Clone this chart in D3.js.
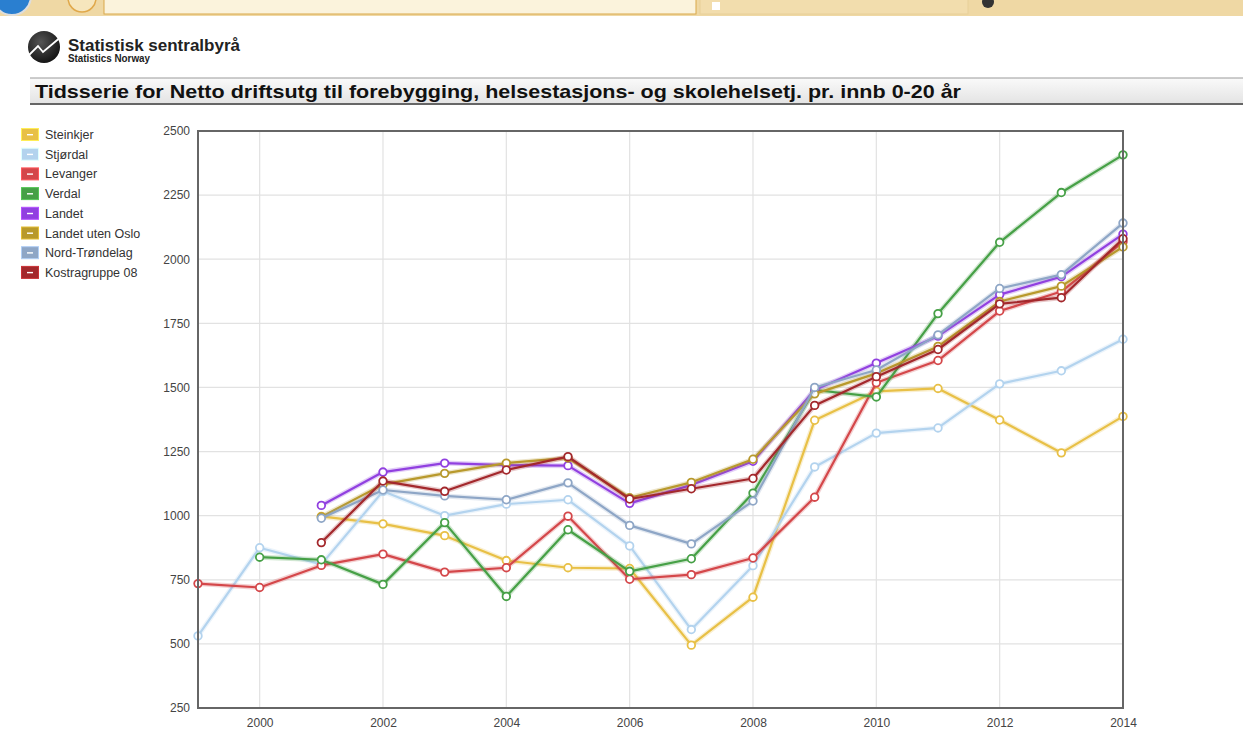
<!DOCTYPE html>
<html lang="no">
<head>
  <meta charset="UTF-8">
  <title>Tidsserie for Netto driftsutg</title>
  <script src="https://d3js.org/d3.v7.min.js"></script>
  <style>
    body {
      margin: 0;
      background: #fff;
      font-family: "Liberation Sans", Arial, sans-serif;
    }
    svg { display: block; }
  </style>
</head>
<body>
  <svg id="chart" width="1243" height="731"></svg>

  <script>
    // years on the x axis
    const years = d3.range(1999, 2015);

    const seriesNames = ["Steinkjer", "Stjørdal", "Levanger", "Verdal", "Landet",
                         "Landet uten Oslo", "Nord-Trøndelag", "Kostragruppe 08"];
    const seriesColors = ["#e8c046", "#b3d3ee", "#d4474a", "#46a046", "#9140e0",
                          "#b8992c", "#8ea6c6", "#a3282c"];

    // values, 1999..2014 (null = no value)
    const steinkjer  = [null, null, 997, 968, 922, 825, 797, 794, 495, 682, 1372, 1485, 1496, 1373, 1245, 1387];
    const stjordal   = [531, 875, 810, 1095, 1000, 1045, 1062, 882, 556, 805, 1190, 1322, 1342, 1514, 1565, 1688];
    const levanger   = [735, 720, 806, 850, 780, 797, 998, 752, 770, 835, 1072, 1518, 1605, 1798, 1874, 2068];
    const verdal     = [null, 838, 828, 732, 973, 685, 945, 783, 832, 1088, 1490, 1463, 1788, 2066, 2260, 2407];
    const landet     = [null, null, 1040, 1170, 1205, 1197, 1195, 1048, 1120, 1212, 1490, 1595, 1700, 1862, 1932, 2098];
    const utenOslo   = [null, null, 995, 1122, 1165, 1205, 1225, 1070, 1130, 1220, 1475, 1555, 1660, 1835, 1895, 2048];
    const nordTrond  = [null, null, 990, 1100, 1077, 1062, 1128, 962, 890, 1057, 1500, 1568, 1705, 1886, 1940, 2141];
    const kostra08   = [null, null, 895, 1135, 1095, 1178, 1230, 1065, 1105, 1145, 1430, 1542, 1648, 1826, 1850, 2080];

    const seriesValues = [steinkjer, stjordal, levanger, verdal, landet, utenOslo, nordTrond, kostra08];

    const yTicks = [250, 500, 750, 1000, 1250, 1500, 1750, 2000, 2250, 2500];
    const xTicks = [2000, 2002, 2004, 2006, 2008, 2010, 2012, 2014];

    const titleText = "Tidsserie for Netto driftsutg til forebygging, helsestasjons- og skolehelsetj. pr. innb 0-20 år";

    const svg = d3.select("#chart");
    const defs = svg.append("defs");

    // --- browser strip at the very top (part of the screenshot) ---
    const chrome = svg.append("g");
    chrome.append("rect").attr("x", 0).attr("y", 0).attr("width", 1243).attr("height", 16).attr("fill", "#efd8a4");
    chrome.append("circle").attr("cx", 12).attr("cy", -4).attr("r", 19).attr("fill", "#2a7fd0").attr("stroke", "#ddd").attr("stroke-width", 2);
    chrome.append("circle").attr("cx", 82).attr("cy", -2).attr("r", 14).attr("fill", "#f6e6bd").attr("stroke", "#e0a84a").attr("stroke-width", 1.5);
    chrome.append("rect").attr("x", 104).attr("y", -2).attr("width", 592).attr("height", 16).attr("fill", "#fbf3dc").attr("stroke", "#d9a84a");
    chrome.append("rect").attr("x", 700).attr("y", -2).attr("width", 268).attr("height", 16).attr("fill", "#f2ddad").attr("stroke", "#e8cf98");
    chrome.append("rect").attr("x", 712).attr("y", 2).attr("width", 8).attr("height", 8).attr("fill", "#fff");
    chrome.append("circle").attr("cx", 988).attr("cy", 2).attr("r", 6).attr("fill", "#333");

    // --- logo ---
    const logo = svg.append("g");
    const grad = defs.append("radialGradient").attr("id", "logoGrad")
      .attr("cx", "40%").attr("cy", "35%").attr("r", "70%");
    grad.append("stop").attr("offset", "0%").attr("stop-color", "#555");
    grad.append("stop").attr("offset", "100%").attr("stop-color", "#111");
    logo.append("circle").attr("cx", 44).attr("cy", 47).attr("r", 16).attr("fill", "url(#logoGrad)");
    logo.append("path")
      .attr("d", "M26,58 L38,46 L43,52 L62,36")
      .attr("fill", "none").attr("stroke", "#fff").attr("stroke-width", 1.8);
    logo.append("text").attr("x", 68).attr("y", 51)
      .attr("font-family", "'Liberation Sans Narrow', 'Arial Narrow', sans-serif")
      .attr("font-weight", "bold").attr("font-size", 16).attr("fill", "#222")
      .attr("textLength", 172).attr("lengthAdjust", "spacingAndGlyphs")
      .text("Statistisk sentralbyrå");
    logo.append("text").attr("x", 68).attr("y", 62)
      .attr("font-family", "'Liberation Sans Narrow', 'Arial Narrow', sans-serif")
      .attr("font-weight", "bold").attr("font-size", 11).attr("fill", "#222")
      .attr("textLength", 82).attr("lengthAdjust", "spacingAndGlyphs")
      .text("Statistics Norway");

    // --- title bar ---
    const tg = defs.append("linearGradient").attr("id", "titleGrad")
      .attr("x1", 0).attr("y1", 0).attr("x2", 0).attr("y2", 1);
    tg.append("stop").attr("offset", "0%").attr("stop-color", "#fafafa");
    tg.append("stop").attr("offset", "100%").attr("stop-color", "#e4e4e4");
    svg.append("rect").attr("x", 30).attr("y", 78).attr("width", 1213).attr("height", 25).attr("fill", "url(#titleGrad)");
    svg.append("line").attr("x1", 30).attr("x2", 1243).attr("y1", 78).attr("y2", 78).attr("stroke", "#9a9a9a");
    svg.append("line").attr("x1", 30).attr("x2", 1243).attr("y1", 104).attr("y2", 104).attr("stroke", "#666").attr("stroke-width", 2);
    svg.append("text").attr("x", 35).attr("y", 98)
      .attr("font-weight", "bold").attr("font-size", 18.5).attr("fill", "#111")
      .attr("textLength", 926).attr("lengthAdjust", "spacingAndGlyphs")
      .text(titleText);

    // --- plot ---
    const plot = { left: 198, right: 1123, top: 131, bottom: 708 };

    const x = d3.scaleLinear().domain([1999, 2014]).range([plot.left, plot.right]);
    const y = d3.scaleLinear().domain([250, 2500]).range([plot.bottom, plot.top]);

    const grid = svg.append("g");
    grid.selectAll("line.h").data(yTicks).join("line")
      .attr("x1", plot.left).attr("x2", plot.right)
      .attr("y1", d => y(d)).attr("y2", d => y(d))
      .attr("stroke", "#e2e2e2").attr("stroke-width", 1.2);
    grid.selectAll("line.v").data(xTicks).join("line")
      .attr("x1", d => x(d)).attr("x2", d => x(d))
      .attr("y1", plot.top).attr("y2", plot.bottom)
      .attr("stroke", "#e2e2e2").attr("stroke-width", 1.2);

    // y axis labels
    const yAxis = d3.axisLeft(y).tickValues(yTicks).tickSize(0).tickPadding(8).tickFormat(d3.format("d"));
    const yg = svg.append("g").attr("transform", `translate(${plot.left},0)`).call(yAxis);
    yg.select(".domain").remove();
    yg.selectAll("text").attr("font-family", "'Liberation Sans', Arial, sans-serif").attr("font-size", 12).attr("fill", "#444");

    // x axis labels
    const xAxis = d3.axisBottom(x).tickValues(xTicks).tickSize(0).tickPadding(10).tickFormat(d3.format("d"));
    const xg = svg.append("g").attr("transform", `translate(0,${plot.bottom})`).call(xAxis);
    xg.select(".domain").remove();
    xg.selectAll("text").attr("font-family", "'Liberation Sans', Arial, sans-serif").attr("font-size", 12).attr("fill", "#444");

    // series
    const series = seriesNames.map((name, i) => ({
      name,
      color: seriesColors[i],
      points: years.map((yr, j) => ({ year: yr, value: seriesValues[i][j] })).filter(p => p.value !== null)
    }));

    const line = d3.line().x(d => x(d.year)).y(d => y(d.value));

    const lines = svg.append("g");
    series.forEach(s => {
      const g = lines.append("g");
      g.append("path").datum(s.points).attr("d", line)
        .attr("fill", "none").attr("stroke", s.color).attr("stroke-opacity", 0.25)
        .attr("stroke-width", 5).attr("stroke-linejoin", "round");
      g.append("path").datum(s.points).attr("d", line)
        .attr("fill", "none").attr("stroke", s.color)
        .attr("stroke-width", 2.2).attr("stroke-linejoin", "round");
      g.selectAll("circle").data(s.points).join("circle")
        .attr("cx", d => x(d.year)).attr("cy", d => y(d.value)).attr("r", 3.8)
        .attr("fill", "#fff").attr("stroke", s.color).attr("stroke-width", 1.8);
    });

    // plot border
    svg.append("rect")
      .attr("x", plot.left).attr("y", plot.top)
      .attr("width", plot.right - plot.left).attr("height", plot.bottom - plot.top)
      .attr("fill", "none").attr("stroke", "#666").attr("stroke-width", 2);

    // legend
    const legend = svg.append("g").attr("transform", "translate(21,128)");
    const items = legend.selectAll("g").data(series).join("g")
      .attr("transform", (d, i) => `translate(0,${i * 19.7})`);
    items.append("rect").attr("x", 0.5).attr("y", 0.5).attr("width", 17).attr("height", 12)
      .attr("fill", d => d.color).attr("stroke", d => d3.color(d.color).brighter(0.6)).attr("stroke-width", 1);
    items.append("rect").attr("x", 6).attr("y", 6).attr("width", 6).attr("height", 1.4).attr("fill", "#fff");
    items.append("text").attr("x", 24).attr("y", 11)
      .attr("font-size", 12.5).attr("fill", "#333")
      .text(d => d.name);
  </script>
</body>
</html>
